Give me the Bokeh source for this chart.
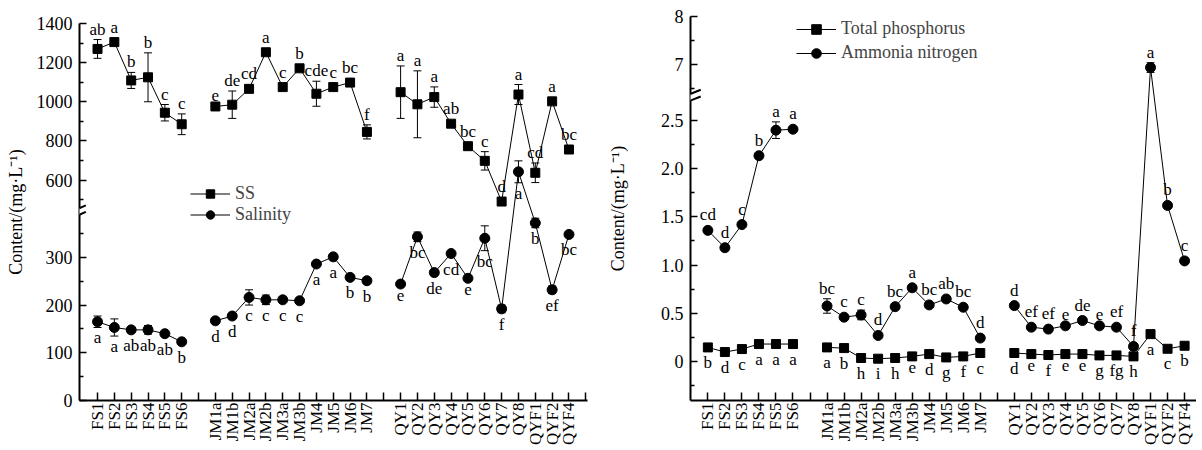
import numpy as np
from bokeh.plotting import figure
from bokeh.models import (Range1d, FixedTicker, ColumnDataSource, Whisker, TeeHead,
                          Legend, LegendItem, Arrow, PolyAnnotation)
from bokeh.layouts import row
from bokeh.core.properties import value
from bokeh.embed import file_html
from bokeh.resources import INLINE

FONT = "Liberation Serif"

# ---------------- data ----------------
sites_fs = ["FS1", "FS2", "FS3", "FS4", "FS5", "FS6"]
sites_jm = ["JM1a", "JM1b", "JM2a", "JM2b", "JM3a", "JM3b", "JM4", "JM5", "JM6", "JM7"]
sites_qy = ["QY1", "QY2", "QY3", "QY4", "QY5", "QY6", "QY7", "QY8", "QYF1", "QYF2", "QYF4"]

ss = [1270, 1305, 1109, 1125, 944, 885,
      976, 985, 1066, 1253, 1075, 1171, 1041, 1075, 1098, 846,
      1049, 987, 1024, 888, 773, 698, 490, 1037, 637, 1002, 756]
ss_err = [48, 0, 41, 125, 42, 53,
          0, 70, 0, 0, 0, 0, 64, 0, 0, 36,
          134, 171, 52, 0, 0, 47, 15, 51, 50, 0, 0]
ss_sig = ["ab", "a", "b", "b", "c", "c",
          "e", "de", "cd", "a", "c", "b", "cde", "c", "bc", "f",
          "a", "a", "a", "ab", "bc", "c", "d", "a", "cd", "a", "bc"]

salinity = [165, 153, 148, 148, 140, 123,
            167, 177, 216, 211, 211, 209, 286, 301, 258, 251,
            244, 343, 268, 308, 256, 340, 192, 642, 372, 232, 348]
sal_err = [12, 18, 0, 9, 0, 0,
           0, 0, 16, 10, 0, 0, 0, 0, 0, 0,
           0, 10, 0, 0, 0, 26, 8, 56, 10, 8, 0]
sal_sig = ["a", "a", "ab", "ab", "ab", "b",
           "d", "d", "c", "c", "c", "c", "a", "a", "b", "b",
           "e", "bc", "de", "cd", "e", "bc", "f", "a", "b", "ef", "bc"]

tp = [0.145, 0.097, 0.128, 0.18, 0.18, 0.18,
      0.145, 0.138, 0.035, 0.028, 0.035, 0.052, 0.076, 0.041, 0.052, 0.087,
      0.087, 0.076, 0.066, 0.076, 0.076, 0.062, 0.062, 0.052, 0.283, 0.131, 0.162]
tp_err = [0] * 27
tp_sig = ["b", "d", "c", "a", "a", "a",
          "a", "b", "h", "i", "h", "e", "d", "g", "f", "c",
          "d", "e", "f", "e", "e", "g", "fg", "h", "a", "c", "b"]

an = [1.36, 1.18, 1.42, 2.135, 2.40, 2.41,
      0.575, 0.459, 0.482, 0.269, 0.568, 0.764, 0.586, 0.648, 0.562, 0.242,
      0.579, 0.355, 0.335, 0.369, 0.424, 0.369, 0.355, 0.155, 6.94, 1.619, 1.043]
an_err = [0, 0, 0, 0, 0.086, 0,
          0.075, 0, 0.05, 0, 0, 0, 0, 0, 0, 0,
          0, 0, 0, 0, 0, 0, 0, 0, 0.1, 0, 0]
an_sig = ["cd", "d", "c", "b", "a", "a",
          "bc", "c", "c", "d", "bc", "a", "bc", "ab", "bc", "d",
          "d", "ef", "ef", "e", "de", "e", "ef", "f", "a", "b", "c"]

left_major = [0, 100, 200, 300, 600, 800, 1000, 1200, 1400]
left_minor = [50, 150, 250, 350, 500, 700, 900, 1100, 1300]
right_major = [0, 0.5, 1.0, 1.5, 2.0, 2.5, 7, 8]
right_major_lbl = ["0", "0.5", "1.0", "1.5", "2.0", "2.5", "7", "8"]
right_minor = [-0.25, 0.25, 0.75, 1.25, 1.75, 2.25, 6.5, 7.5]

# ---------------- positions ----------------
groups = [sites_fs, sites_jm, sites_qy]
xs, names, slices = [], {}, []
pos = 0
for g in groups:
    start = len(xs)
    for s in g:
        xs.append(pos)
        names[pos] = s
        pos += 1
    slices.append(slice(start, len(xs)))
    pos += 1  # gap between river groups

FIG_H = 448
EST_BOTTOM = 399.5  # expected frame bottom (px)


def t_left(v):
    v = np.asarray(v, dtype=float)
    return np.where(v <= 420, v, 462 + (v - 600) * 0.41)


def t_right(v):
    v = np.asarray(v, dtype=float)
    return np.where(v <= 5, v * 100, 308 + (v - 7) * 50)


def make_fig(width, xr, yr, bl, br, bt, bb):
    p = figure(width=width, height=FIG_H, x_range=Range1d(*xr), y_range=Range1d(*yr),
               output_backend="svg", toolbar_location=None,
               min_border_left=bl, min_border_right=br, min_border_top=bt, min_border_bottom=bb)
    p.frame_align = False
    p.outline_line_color = None
    p.grid.visible = False
    p.background_fill_color = "white"
    p.border_fill_color = "white"
    return p


def style_axes(p, x_ticks, y_major, y_minor, y_labels, ylabel_standoff):
    xa = p.xaxis[0]
    xa.ticker = FixedTicker(ticks=x_ticks)
    xa.major_label_overrides = {int(k): names.get(k, "") for k in x_ticks}
    xa.major_label_orientation = np.pi / 2
    xa.major_label_text_font = FONT
    xa.major_label_text_font_size = "17px"
    xa.major_label_text_color = "black"
    xa.major_label_standoff = 2
    xa.major_tick_in = 8
    xa.major_tick_out = 0
    xa.minor_tick_line_color = None
    xa.axis_line_width = 2
    xa.major_tick_line_width = 1.5

    ya = p.yaxis[0]
    ya.ticker = FixedTicker(ticks=list(y_major), minor_ticks=list(y_minor))
    ya.major_label_overrides = {float(k): l for k, l in zip(y_major, y_labels)}
    ya.major_label_text_font = FONT
    ya.major_label_text_font_size = "18px"
    ya.major_label_text_color = "black"
    ya.major_label_standoff = 7
    ya.major_tick_in = 7
    ya.major_tick_out = 0
    ya.minor_tick_in = 4
    ya.minor_tick_out = 0
    ya.axis_line_width = 2
    ya.major_tick_line_width = 1.5
    ya.minor_tick_line_width = 1.5
    ya.axis_label = "Content/(mg·L⁻¹)"
    ya.axis_label_text_font = FONT
    ya.axis_label_text_font_size = "18px"
    ya.axis_label_text_font_style = "normal"
    ya.axis_label_text_color = "black"
    ya.axis_label_standoff = ylabel_standoff


def draw_series(p, vals, errs, sigs, tf, marker, size, place, pxu):
    x = np.array(xs, dtype=float)
    v = np.array(vals, dtype=float)
    e = np.array(errs, dtype=float)
    y = tf(v)
    line_rs = []
    for sl in slices:
        line_rs.append(p.line(x[sl], y[sl], line_color="black", line_width=1))
    m = e > 0
    if m.any():
        src = ColumnDataSource(dict(x=x[m], up=tf(v[m] + e[m]), lo=tf(v[m] - e[m])))
        p.add_layout(Whisker(source=src, base="x", upper="up", lower="lo",
                             line_color="black", line_width=1,
                             upper_head=TeeHead(size=8, line_width=1, line_color="black"),
                             lower_head=TeeHead(size=8, line_width=1, line_color="black")))
    sc = p.scatter(x, y, marker=marker, size=size, fill_color="black", line_color="black")
    err_px = (tf(v + e) - y) * pxu
    if place == "above":
        off = -(np.maximum(err_px, size / 2) + 1)
        base = "bottom"
    else:
        off = np.maximum(err_px, size / 2) + 1
        base = "top"
    tsrc = ColumnDataSource(dict(x=x, y=y, t=sigs, off=off))
    p.text(x="x", y="y", text="t", y_offset="off", source=tsrc, text_align="center",
           text_baseline=base, text_font=value(FONT), text_font_size="17px", text_color="black")
    return line_rs[0], sc


def add_break(p, xa, xb, ylo1, yhi1, gap):
    # two parallel slashes crossing the y axis; the axis is whitened between them
    f = 0.2
    p.add_layout(PolyAnnotation(xs=[xa + f * (xb - xa), xb - f * (xb - xa), xb - f * (xb - xa), xa + f * (xb - xa)],
                                ys=[ylo1 - gap + f * (yhi1 - ylo1), yhi1 - gap - f * (yhi1 - ylo1),
                                    yhi1 - f * (yhi1 - ylo1), ylo1 + f * (yhi1 - ylo1)],
                                fill_color="white", fill_alpha=1, line_color=None))
    for d in (0, gap):
        p.add_layout(Arrow(x_start=xa, y_start=ylo1 - d, x_end=xb, y_end=yhi1 - d,
                           start=None, end=None, line_color="black", line_width=2))


# ---------------- left chart ----------------
L_TOP = 23
pxu_l = (EST_BOTTOM - L_TOP) / 790
pl = make_fig(600, (-1.07, 29.1), (0, 790), 79, 13, L_TOP, 45)
style_axes(pl, list(range(0, 30)), t_left(left_major).tolist(), t_left(left_minor).tolist(),
           [str(v) for v in left_major], 8)
l_ss, s_ss = draw_series(pl, ss, ss_err, ss_sig, t_left, "square", 9, "above", pxu_l)
l_sa, s_sa = draw_series(pl, salinity, sal_err, sal_sig, t_left, "circle", 10, "below", pxu_l)
add_break(pl, -1.585, -0.695, 395, 409, 13.6)
leg_l = Legend(items=[LegendItem(label="SS", renderers=[l_ss, s_ss]),
                      LegendItem(label="Salinity", renderers=[l_sa, s_sa])],
               location=(111, EST_BOTTOM - 224), glyph_width=40, glyph_height=21, label_height=21,
               spacing=0, padding=0, margin=0, label_standoff=5,
               label_text_font=FONT, label_text_font_size="18px",
               background_fill_alpha=0, border_line_color=None)
pl.add_layout(leg_l)

# ---------------- right chart ----------------
R_TOP = 16
pxu_r = (EST_BOTTOM - R_TOP) / 398.6
pr = make_fig(596, (-1.02, 28.7), (-40.6, 358), 90, 0, R_TOP, 45)
style_axes(pr, list(range(0, 29)), t_right(right_major).tolist(), t_right(right_minor).tolist(),
           right_major_lbl, 30)
l_tp, s_tp = draw_series(pr, tp, tp_err, tp_sig, t_right, "square", 9, "below", pxu_r)
l_an, s_an = draw_series(pr, an, an_err, an_sig, t_right, "circle", 10, "above", pxu_r)
add_break(pr, -1.4, -0.42, 275, 282, 7)
leg_r = Legend(items=[LegendItem(label="Total phosphorus", renderers=[l_tp, s_tp]),
                      LegendItem(label="Ammonia nitrogen", renderers=[l_an, s_an])],
               location=(106, EST_BOTTOM - 64), glyph_width=40, glyph_height=24, label_height=24,
               spacing=0, padding=0, margin=0, label_standoff=5,
               label_text_font=FONT, label_text_font_size="18px",
               background_fill_alpha=0, border_line_color=None)
pr.add_layout(leg_r)

layout = row(pl, pr)
open("out.html", "w").write(file_html(layout, INLINE))
